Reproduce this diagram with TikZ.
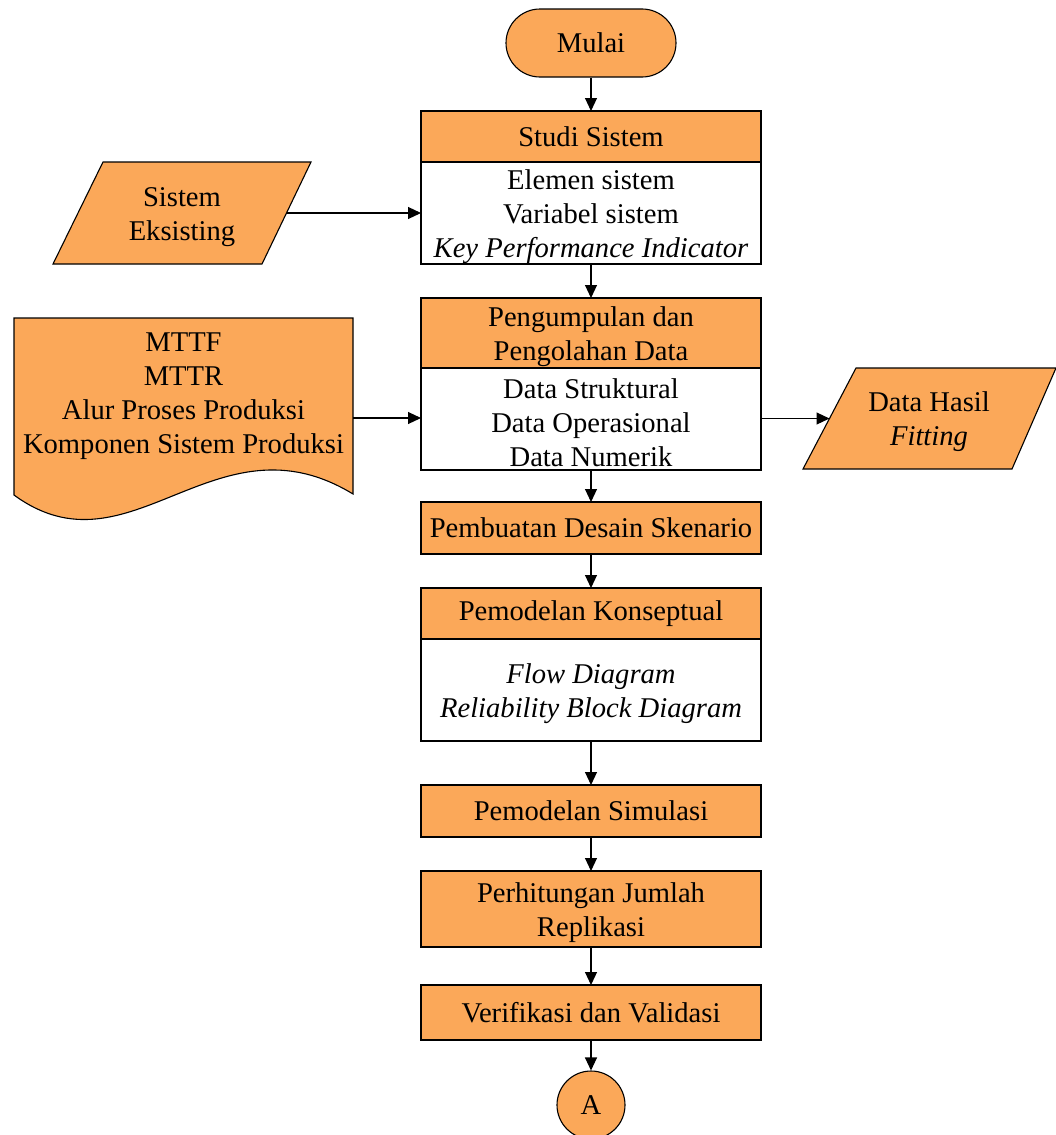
\documentclass[tikz,border=0pt]{standalone}
\usepackage{fontspec}
\setmainfont{Liberation Serif}
\usetikzlibrary{arrows.meta}
\definecolor{boxorange}{RGB}{251,168,89}
\newcommand{\firstline}{\rule{0pt}{27pt}}
\tikzset{
  txt/.style={font=\fontsize{28.6pt}{34pt}\selectfont, align=center},
  hdr/.style={txt, draw=black, fill=boxorange, line width=1.1pt, outer sep=0pt,
    minimum width=340, inner sep=0pt},
  bodybox/.style={txt, draw=black, fill=white, line width=1.1pt, outer sep=0pt,
    minimum width=340, inner sep=0pt},
  ioshape/.style={draw=black, fill=boxorange, line width=1.1pt},
  arr/.style={line width=1.1pt, -{Triangle[length=13pt,width=12pt]}},
}
\begin{document}
\begin{tikzpicture}[x=1pt,y=-1pt]
\useasboundingbox (0,0) rectangle (1056,1135);

% start terminal
\node[txt, draw=black, fill=boxorange, line width=1.1pt, rounded corners=34pt,
  minimum width=170, minimum height=68, inner sep=0pt] (mulai) at (591,43) {Mulai};

% Studi Sistem
\node[hdr, minimum height=51, anchor=north] (studi) at (591,111) {Studi Sistem};
\node[bodybox, minimum height=102, anchor=north] (studib) at (studi.south)
  {\firstline Elemen sistem\\Variabel sistem\\\textit{Key Performance Indicator}};

% Pengumpulan dan Pengolahan Data
\node[hdr, minimum height=70, anchor=north] (olah) at (591,298)
  {\firstline Pengumpulan dan\\Pengolahan Data};
\node[bodybox, minimum height=102, anchor=north] (olahb) at (olah.south)
  {\firstline Data Struktural\\Data Operasional\\Data Numerik};

% Pembuatan Desain Skenario
\node[hdr, minimum height=52, anchor=north] (desain) at (591,502) {Pembuatan Desain Skenario};

% Pemodelan Konseptual
\node[hdr, minimum height=51, anchor=north] (konsep) at (591,588) {Pemodelan Konseptual};
\node[bodybox, minimum height=102, anchor=north] (konsepb) at (konsep.south)
  {\firstline\textit{Flow Diagram}\\\textit{Reliability Block Diagram}};

% Pemodelan Simulasi
\node[hdr, minimum height=52, anchor=north] (simul) at (591,785) {Pemodelan Simulasi};

% Perhitungan Jumlah Replikasi
\node[hdr, minimum height=76, anchor=north] (repl) at (591,871)
  {\firstline Perhitungan Jumlah\\Replikasi};

% Verifikasi dan Validasi
\node[hdr, minimum height=55, anchor=north] (verval) at (591,985) {Verifikasi dan Validasi};

% off-page connector
\node[txt, circle, draw=black, fill=boxorange, line width=1.1pt, minimum size=68,
  inner sep=0pt] (conA) at (591,1105) {A};

% input: existing system
\draw[ioshape] (103,162) -- (311,162) -- (262,264) -- (53,264) -- cycle;
\node[txt, inner sep=0pt] (eksis) at (182,213) {\firstline Sistem\\Eksisting};
\coordinate (eksisR) at (286.5,213);

% output: fitting results
\draw[ioshape] (856,368) -- (1056,368) -- (1012,469) -- (803,469) -- cycle;
\node[txt, inner sep=0pt] (hasil) at (929,418.5) {\firstline Data Hasil\\\textit{Fitting}};
\coordinate (hasilL) at (829.5,418.5);

% document: input data
\draw[ioshape]
  (14,318) -- (353,318) -- (353,494)
  .. controls (215,410) and (130,580) .. (14,495) -- cycle;
\node[txt, inner sep=0pt] (dokumen) at (183.5,396)
  {MTTF\\MTTR\\Alur Proses Produksi\\Komponen Sistem Produksi};
\coordinate (dokR) at (353,418);

% connectors
\draw[arr] (mulai) -- (studi);
\draw[arr] (studib) -- (olah);
\draw[arr] (olahb) -- (desain);
\draw[arr] (desain) -- (konsep);
\draw[arr] (konsepb) -- (simul);
\draw[arr] (simul) -- (repl);
\draw[arr] (repl) -- (verval);
\draw[arr] (verval) -- (conA);
\draw[arr] (eksisR) -- (studib.west |- eksisR);
\draw[arr] (dokR) -- (olahb.west |- dokR);
\draw[arr] (olahb.east |- hasilL) -- (hasilL);
\end{tikzpicture}
\end{document}
